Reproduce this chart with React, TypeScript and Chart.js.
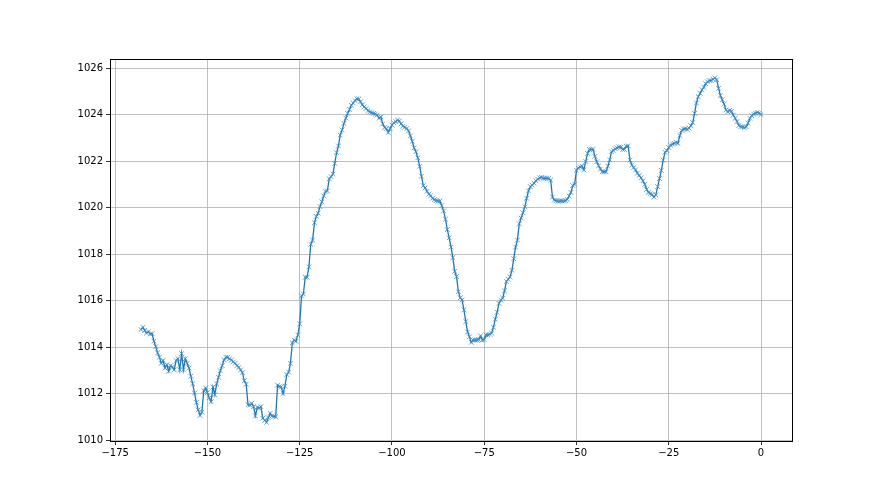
import React, { useEffect, useRef } from "react";
import { Chart, registerables } from "chart.js";

Chart.register(...registerables);

// Half-hourly samples from t = -168 to t = 0
const startHour = -168;
const stepHours = 0.5;
const pressure = [
  1014.75, 1014.85, 1014.72, 1014.6, 1014.66, 1014.56, 1014.58, 1014.25,
  1014.02, 1013.75, 1013.56, 1013.3, 1013.42, 1013.1, 1013.24, 1012.96,
  1013.2, 1013.14, 1013.02, 1013.42, 1013.5, 1013.02, 1013.72, 1013.02,
  1013.5, 1013.3, 1013.1, 1012.75, 1012.42, 1012.02, 1011.62, 1011.3,
  1011.06, 1011.2, 1012.12, 1012.24, 1012.04, 1011.82, 1011.65, 1012.28,
  1011.95, 1012.42, 1012.7, 1012.98, 1013.2, 1013.45, 1013.56, 1013.56,
  1013.5, 1013.44, 1013.36, 1013.3, 1013.2, 1013.12, 1013.02, 1012.9,
  1012.55, 1012.4, 1011.52, 1011.5, 1011.58, 1011.44, 1011.04, 1011.4,
  1011.38, 1011.44, 1010.94, 1010.85, 1010.76, 1010.96, 1011.15, 1011.04,
  1011.02, 1011.0, 1012.36, 1012.3, 1012.28, 1012.0, 1012.32, 1012.82,
  1012.92, 1013.3, 1014.18, 1014.3, 1014.24, 1014.52, 1015.0, 1016.2,
  1016.28, 1017.0, 1017.0, 1017.45, 1018.42, 1018.6, 1019.35, 1019.62,
  1019.76, 1020.04, 1020.25, 1020.5, 1020.7, 1020.72, 1021.24, 1021.33,
  1021.44, 1021.9, 1022.36, 1022.65, 1023.12, 1023.34, 1023.62, 1023.85,
  1024.05, 1024.22, 1024.4, 1024.5, 1024.6, 1024.68, 1024.67, 1024.55,
  1024.42, 1024.33, 1024.26, 1024.17, 1024.12, 1024.08, 1024.05, 1024.02,
  1023.98, 1023.84, 1023.9, 1023.6, 1023.44, 1023.4, 1023.23, 1023.4,
  1023.55, 1023.64, 1023.7, 1023.76, 1023.72, 1023.6, 1023.5, 1023.45,
  1023.4, 1023.3, 1023.08, 1022.85, 1022.57, 1022.4, 1022.14, 1021.78,
  1021.35, 1020.94, 1020.85, 1020.7, 1020.58, 1020.51, 1020.4, 1020.34,
  1020.3, 1020.28, 1020.28, 1020.08, 1019.86, 1019.5, 1019.05, 1018.7,
  1018.3, 1017.85, 1017.26, 1017.03, 1016.38, 1016.12, 1016.03, 1015.6,
  1015.1, 1014.65, 1014.44, 1014.2, 1014.3, 1014.3, 1014.3, 1014.32,
  1014.48, 1014.3, 1014.32, 1014.52, 1014.52, 1014.55, 1014.6, 1014.85,
  1015.2, 1015.5, 1015.88, 1016.02, 1016.1, 1016.42, 1016.82, 1016.91,
  1017.02, 1017.3, 1017.8, 1018.3, 1018.6, 1019.3, 1019.55, 1019.78,
  1020.03, 1020.4, 1020.72, 1020.9, 1020.97, 1021.05, 1021.15, 1021.22,
  1021.28, 1021.3, 1021.26, 1021.26, 1021.26, 1021.25, 1021.18, 1020.45,
  1020.32, 1020.3, 1020.27, 1020.28, 1020.29, 1020.28, 1020.3, 1020.35,
  1020.5, 1020.65, 1020.95, 1021.0, 1021.6, 1021.7, 1021.75, 1021.78,
  1021.62, 1021.98, 1022.33, 1022.5, 1022.5, 1022.5, 1022.2, 1021.97,
  1021.8, 1021.66, 1021.54, 1021.54, 1021.54, 1021.78, 1022.05, 1022.4,
  1022.46, 1022.53, 1022.57, 1022.6, 1022.6, 1022.5, 1022.5, 1022.64,
  1022.65, 1022.04, 1021.83, 1021.72, 1021.62, 1021.48, 1021.38, 1021.28,
  1021.15, 1021.0, 1020.78, 1020.65, 1020.6, 1020.56, 1020.45, 1020.55,
  1020.9, 1021.25, 1021.6, 1022.04, 1022.38, 1022.45, 1022.58, 1022.68,
  1022.73, 1022.76, 1022.8, 1022.76, 1023.1, 1023.32, 1023.38, 1023.39,
  1023.36, 1023.42, 1023.52, 1023.66, 1024.05, 1024.5, 1024.77, 1024.91,
  1025.07, 1025.17, 1025.33, 1025.41, 1025.46, 1025.46, 1025.52, 1025.58,
  1025.5, 1025.13, 1024.82, 1024.64, 1024.45, 1024.2, 1024.12, 1024.18,
  1024.14, 1023.98, 1023.84, 1023.7, 1023.53, 1023.48, 1023.47, 1023.44,
  1023.48, 1023.64, 1023.84, 1023.95, 1024.02, 1024.06, 1024.09, 1024.06,
  1024.0,
];

const xTicks = [-175, -150, -125, -100, -75, -50, -25, 0];
const yTicks = [1010, 1012, 1014, 1016, 1018, 1020, 1022, 1024, 1026];
const xRange = [-176.4, 8.4];
const yRange = [1009.96, 1026.39];

const fmt = (v: number) => (v < 0 ? "\u2212" + String(Math.abs(v)) : String(v));

const frame = {
  id: "frame",
  afterDatasetsDraw(chart: any) {
    const { ctx, chartArea } = chart;
    ctx.save();
    ctx.strokeStyle = "#000";
    ctx.lineWidth = 1;
    ctx.strokeRect(
      Math.round(chartArea.left) + 0.5,
      Math.round(chartArea.top) + 0.5,
      Math.round(chartArea.right - chartArea.left),
      Math.round(chartArea.bottom - chartArea.top)
    );
    ctx.restore();
  },
};

export default function App() {
  const ref = useRef<HTMLCanvasElement | null>(null);

  useEffect(() => {
    document.body.style.margin = "0";
    const points = pressure.map((v, i) => ({ x: startHour + i * stepHours, y: v }));
    const font = { family: "DejaVu Sans", size: 10 };
    const chart = new Chart(ref.current!, {
      type: "line",
      data: {
        datasets: [
          {
            data: points,
            borderColor: "#1f77b4",
            backgroundColor: "#1f77b4",
            borderWidth: 1.3,
            pointStyle: "crossRot",
            pointRadius: 3.3,
            pointBorderWidth: 0.8,
            pointBorderColor: "#3a8cc8",
            pointHoverRadius: 3.3,
            tension: 0,
            fill: false,
          },
        ],
      },
      options: {
        responsive: false,
        animation: false,
        events: [],
        layout: { padding: { top: 59, right: 88, bottom: 0, left: 0 } },
        plugins: { legend: { display: false }, tooltip: { enabled: false } },
        scales: {
          x: {
            type: "linear",
            min: xRange[0],
            max: xRange[1],
            afterBuildTicks: (s: any) => {
              s.ticks = xTicks.map((v) => ({ value: v }));
            },
            afterFit: (s: any) => {
              s.height = 54;
            },
            ticks: {
              color: "#000",
              font,
              padding: 2,
              maxRotation: 0,
              autoSkip: false,
              callback: (v: any) => fmt(Number(v)),
            },
            grid: { color: "#b0b0b0", lineWidth: 0.8, tickColor: "#000", tickLength: 4 },
            border: { color: "#000", width: 1 },
          },
          y: {
            type: "linear",
            min: yRange[0],
            max: yRange[1],
            afterBuildTicks: (s: any) => {
              s.ticks = yTicks.map((v) => ({ value: v }));
            },
            afterFit: (s: any) => {
              s.width = 110;
            },
            ticks: {
              color: "#000",
              font,
              padding: 3,
              autoSkip: false,
              callback: (v: any) => fmt(Number(v)),
            },
            grid: { color: "#b0b0b0", lineWidth: 0.8, tickColor: "#000", tickLength: 4 },
            border: { color: "#000", width: 1 },
          },
        },
      },
      plugins: [frame],
    });
    return () => chart.destroy();
  }, []);

  return (
    <div style={{ width: 880, height: 495, background: "#fff" }}>
      <canvas ref={ref} width={880} height={495} />
    </div>
  );
}
